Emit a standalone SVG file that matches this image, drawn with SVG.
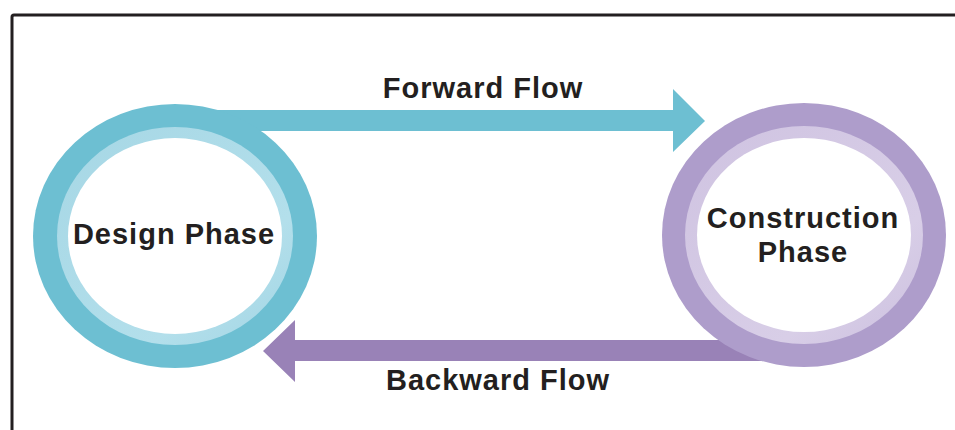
<svg xmlns="http://www.w3.org/2000/svg" width="955" height="430" viewBox="0 0 955 430">
  <defs>
    <style>
      .label { font-family: "Liberation Sans", Arial, sans-serif; font-weight: bold; font-size: 29px; letter-spacing: 1px; fill: #231f20; text-anchor: middle; }
      .frame { fill: none; stroke: #231f20; stroke-width: 3; stroke-linejoin: round; }
    </style>
    <linearGradient id="tealRing" x1="0" y1="0" x2="1" y2="1">
      <stop offset="0" stop-color="#a6d7e5"/>
      <stop offset="0.7" stop-color="#b3dfeb"/>
      <stop offset="1" stop-color="#a2d5e4"/>
    </linearGradient>
    <linearGradient id="violetRing" x1="0" y1="0" x2="1" y2="1">
      <stop offset="0" stop-color="#cfc3e1"/>
      <stop offset="0.7" stop-color="#d8cee7"/>
      <stop offset="1" stop-color="#ccc0df"/>
    </linearGradient>
  </defs>

  <!-- outer frame, open to the right and bottom -->
  <path class="frame" d="M12,430 V17 Q12,15 14,15 H955"/>

  <!-- flow arrows; shafts tuck under the phase rings -->
  <g id="connectors">
    <polygon id="forward-flow" fill="#6dbfd2" points="200,110 673,110 673,89 705,121 673,152 673,131 200,131"/>
    <polygon id="backward-flow" fill="#9982b7" points="790,340 295,340 295,320 263,351 295,382 295,361 790,361"/>
  </g>

  <g id="design-phase">
    <ellipse cx="175" cy="236" rx="142" ry="132" fill="#6dbfd2"/>
    <ellipse cx="175" cy="236" rx="118" ry="109" fill="url(#tealRing)"/>
    <ellipse cx="175" cy="236" rx="107" ry="98" fill="#ffffff"/>
    <text class="label" x="174" y="244">Design Phase</text>
  </g>

  <g id="construction-phase">
    <ellipse cx="804" cy="235" rx="142" ry="132" fill="#ae9dcb"/>
    <ellipse cx="804" cy="235" rx="119" ry="109" fill="url(#violetRing)"/>
    <ellipse cx="804" cy="235" rx="107" ry="97" fill="#ffffff"/>
    <text class="label" x="803" y="228">Construction</text>
    <text class="label" x="803" y="262">Phase</text>
  </g>

  <text class="label" x="483" y="98">Forward Flow</text>
  <text class="label" x="498" y="390">Backward Flow</text>
</svg>
